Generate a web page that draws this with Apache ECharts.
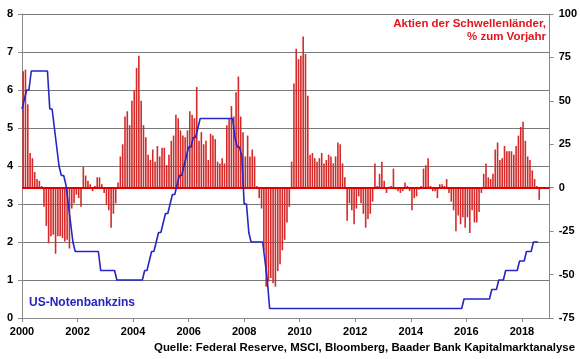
<!DOCTYPE html>
<html><head><meta charset="utf-8">
<script src="https://cdn.jsdelivr.net/npm/echarts@6/dist/echarts.min.js"></script>
<style>html,body{margin:0;padding:0;background:#fff}#c{width:580px;height:359px}</style>
</head><body><div id="c"></div>
<script>
const startYear = 2000;
const xTickLabels = [2000, 2002, 2004, 2006, 2008, 2010, 2012, 2014, 2016, 2018];
const lineName = 'US-Notenbankzins';
const barName = 'Aktien der Schwellenländer, % zum Vorjahr';
const titleLines = ['Aktien der Schwellenländer,', '% zum Vorjahr'];
const sourceText = 'Quelle: Federal Reserve, MSCI, Bloomberg, Baader Bank Kapitalmarktanalyse';

// US Fed funds target rate, monthly from Jan 2000 (%)
const fed2000 = [5.5, 5.75, 6.0, 6.0, 6.5, 6.5, 6.5, 6.5, 6.5, 6.5, 6.5, 6.5];
const fed2001 = [5.5, 5.5, 5.0, 4.5, 4.0, 3.75, 3.75, 3.5, 3.0, 2.5, 2.0, 1.75];
const fed2002 = [1.75, 1.75, 1.75, 1.75, 1.75, 1.75, 1.75, 1.75, 1.75, 1.75, 1.25, 1.25];
const fed2003 = [1.25, 1.25, 1.25, 1.25, 1.25, 1.0, 1.0, 1.0, 1.0, 1.0, 1.0, 1.0];
const fed2004 = [1.0, 1.0, 1.0, 1.0, 1.0, 1.25, 1.25, 1.5, 1.75, 1.75, 2.0, 2.25];
const fed2005 = [2.25, 2.5, 2.75, 2.75, 3.0, 3.25, 3.25, 3.5, 3.75, 3.75, 4.0, 4.25];
const fed2006 = [4.5, 4.5, 4.75, 4.75, 5.0, 5.25, 5.25, 5.25, 5.25, 5.25, 5.25, 5.25];
const fed2007 = [5.25, 5.25, 5.25, 5.25, 5.25, 5.25, 5.25, 5.25, 4.75, 4.5, 4.5, 4.25];
const fed2008 = [3.0, 3.0, 2.25, 2.0, 2.0, 2.0, 2.0, 2.0, 2.0, 1.5, 1.0, 0.25];
const fed2009 = [0.25, 0.25, 0.25, 0.25, 0.25, 0.25, 0.25, 0.25, 0.25, 0.25, 0.25, 0.25];
const fed2010 = [0.25, 0.25, 0.25, 0.25, 0.25, 0.25, 0.25, 0.25, 0.25, 0.25, 0.25, 0.25];
const fed2011 = [0.25, 0.25, 0.25, 0.25, 0.25, 0.25, 0.25, 0.25, 0.25, 0.25, 0.25, 0.25];
const fed2012 = [0.25, 0.25, 0.25, 0.25, 0.25, 0.25, 0.25, 0.25, 0.25, 0.25, 0.25, 0.25];
const fed2013 = [0.25, 0.25, 0.25, 0.25, 0.25, 0.25, 0.25, 0.25, 0.25, 0.25, 0.25, 0.25];
const fed2014 = [0.25, 0.25, 0.25, 0.25, 0.25, 0.25, 0.25, 0.25, 0.25, 0.25, 0.25, 0.25];
const fed2015 = [0.25, 0.25, 0.25, 0.25, 0.25, 0.25, 0.25, 0.25, 0.25, 0.25, 0.25, 0.5];
const fed2016 = [0.5, 0.5, 0.5, 0.5, 0.5, 0.5, 0.5, 0.5, 0.5, 0.5, 0.5, 0.75];
const fed2017 = [0.75, 0.75, 1.0, 1.0, 1.0, 1.25, 1.25, 1.25, 1.25, 1.25, 1.25, 1.5];
const fed2018 = [1.5, 1.5, 1.75, 1.75, 1.75, 2.0, 2.0, 2.0];

// MSCI Emerging Markets, % change year on year, monthly from Jan 2000
const em2000 = [67, 68, 48, 20, 17, 9, 5, 4, 1, -11, -22, -32];
const em2001 = [-28, -27, -38, -28, -28, -29, -31, -30, -35, -12, -9, -4];
const em2002 = [-6, -11, 12, 7, 4, 2, -2, 1, 6, 6, 2, -3];
const em2003 = [-10, -13, -23, -15, -9, 3, 18, 25, 41, 44, 36, 50];
const em2004 = [56, 69, 76, 50, 36, 29, 19, 16, 22, 15, 24, 18];
const em2005 = [23, 23, 13, 19, 27, 30, 42, 40, 33, 30, 29, 33];
const em2006 = [44, 42, 40, 58, 27, 32, 25, 27, 16, 31, 30, 28];
const em2007 = [15, 14, 17, 14, 36, 40, 47, 41, 55, 64, 41, 32];
const em2008 = [18, 30, 18, 22, 18, 1, -6, -12, -36, -57, -54, -52];
const em2009 = [-55, -57, -48, -44, -36, -30, -20, -11, 15, 60, 80, 74];
const em2010 = [76, 87, 77, 53, 19, 20, 17, 15, 17, 20, 14, 16];
const em2011 = [19, 18, 14, 18, 26, 25, 14, 6, -19, -9, -13, -21];
const em2012 = [-12, -5, -9, -15, -23, -18, -15, -8, 14, 1, 8, 15];
const em2013 = [4, -3, 0.5, 1, 11, -1, -2, -3, -2, 3, 1, -2];
const em2014 = [-13, -6, -5, -1, 1, 11, 13, 17, 1, -2, -2, -6];
const em2015 = [2, 2, 1, 5, -3, -8, -13, -25, -16, -21, -17, -23];
const em2016 = [-17, -26, -13, -20, -20, -14, -3, 8, 14, 6, 5, 8];
const em2017 = [22, 26, 16, 17, 24, 21, 21, 21, 19, 24, 30, 35];
const em2018 = [38, 27, 18, 16, 10, 5, 1, -7];

const fedFundsRate = [].concat(fed2000, fed2001, fed2002, fed2003, fed2004, fed2005, fed2006, fed2007, fed2008, fed2009, fed2010, fed2011, fed2012, fed2013, fed2014, fed2015, fed2016, fed2017, fed2018);
const emStocksYoY = [].concat(em2000, em2001, em2002, em2003, em2004, em2005, em2006, em2007, em2008, em2009, em2010, em2011, em2012, em2013, em2014, em2015, em2016, em2017, em2018);

// time coordinate (decimal year) of each month
const monthStart = fedFundsRate.map((_, i) => startYear + i / 12);

const FONT = 'Arial, "Liberation Sans", sans-serif';
const GRAY = '#8a8a8a';
const chart = echarts.init(document.getElementById('c'), null, {renderer: 'canvas'});
chart.setOption({
  animation: false,
  backgroundColor: '#fff',
  grid: {left: 22, right: 30, top: 14, bottom: 41},
  xAxis: {
    type: 'value', min: 2000, max: 2019,
    splitLine: {show: false},
    axisLine: {show: true, lineStyle: {color: GRAY, width: 1}},
    axisTick: {show: true, length: 4, customValues: xTickLabels, lineStyle: {color: GRAY}},
    axisLabel: {customValues: xTickLabels, formatter: v => String(v), color: '#000', fontWeight: 'bold', fontSize: 11, fontFamily: FONT, margin: 8}
  },
  yAxis: [
    {
      type: 'value', min: 0, max: 8, interval: 1, position: 'left',
      axisLine: {show: true, lineStyle: {color: GRAY, width: 1}},
      axisTick: {show: true, length: 4, lineStyle: {color: GRAY}},
      splitLine: {show: true, lineStyle: {color: '#7a7a7a', width: 1}},
      axisLabel: {color: '#000', fontWeight: 'bold', fontSize: 11, fontFamily: FONT, margin: 9}
    },
    {
      type: 'value', min: -75, max: 100, interval: 25, position: 'right',
      axisLine: {show: true, lineStyle: {color: GRAY, width: 1}},
      axisTick: {show: true, length: 4, lineStyle: {color: GRAY}},
      splitLine: {show: false},
      axisLabel: {color: '#000', fontWeight: 'bold', fontSize: 11, fontFamily: FONT, margin: 9}
    }
  ],
  series: [
    {
      name: barName, type: 'bar', yAxisIndex: 1,
      data: emStocksYoY.map((v, i) => [monthStart[i] + 1 / 24, v]),
      barWidth: 1.6,
      itemStyle: {color: '#d42a2a'},
      markLine: {
        silent: true, symbol: ['none', 'none'],
        label: {show: false},
        lineStyle: {color: '#e00000', width: 2, type: 'solid'},
        data: [{yAxis: 0}]
      },
      z: 2
    },
    {
      name: lineName, type: 'line', yAxisIndex: 0,
      data: fedFundsRate.map((v, i) => [monthStart[i], v]),
      showSymbol: false, symbol: 'none',
      lineStyle: {color: '#2626c2', width: 1.6},
      z: 5
    }
  ],
  graphic: [
    {type: 'text', right: 34, top: 18, style: {text: titleLines[0], fill: '#e3141c', font: 'bold 11.5px ' + FONT, textAlign: 'right'}},
    {type: 'text', right: 34, top: 31, style: {text: titleLines[1], fill: '#e3141c', font: 'bold 11.5px ' + FONT, textAlign: 'right'}},
    {type: 'text', left: 29, top: 297, style: {text: lineName, fill: '#2424c4', font: 'bold 12px ' + FONT}},
    {type: 'text', right: 5, top: 342, style: {text: sourceText, fill: '#000', font: 'bold 11.4px ' + FONT}}
  ]
});
</script></body></html>
